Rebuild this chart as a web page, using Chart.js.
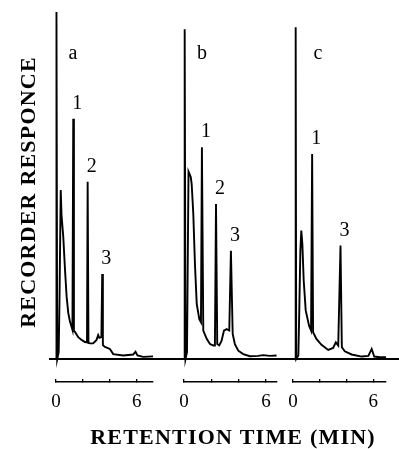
<!DOCTYPE html>
<html><head><meta charset="utf-8">
<script src="https://cdn.jsdelivr.net/npm/chart.js@4.4.0/dist/chart.umd.min.js"></script>
<style>
html,body{margin:0;padding:0;background:#fff;}
#wrap{position:relative;width:399px;height:449px;overflow:hidden;background:#fff;}
#wrap canvas{position:absolute;top:0;}
</style></head><body>
<div id="wrap">
<canvas id="main" width="416" height="449" style="left:0px"></canvas>
<canvas id="pa" width="157" height="449" style="left:26px"></canvas>
<canvas id="pb" width="153" height="449" style="left:154px"></canvas>
<canvas id="pc" width="153" height="449" style="left:263px"></canvas>
</div>
<script>
// ---- data (time in min, response in arbitrary units, 0 = baseline) ----
const timeA = [0, 0.02, 0.05, 0.09, 0.2, 0.26, 0.35, 0.41, 0.54, 0.67, 0.79, 0.91, 1.04, 1.16, 1.22, 1.28, 1.33, 1.41, 1.65, 1.9, 2.15, 2.3, 2.35, 2.41, 2.52, 2.76, 3.01, 3.13, 3.22, 3.37, 3.43, 3.48, 3.63, 4.0, 4.25, 4.99, 5.73, 5.9, 6.05, 6.47, 7.2];
const respA = [0, 0, 100, 0, 2, 17, 48.7, 41.5, 35.2, 25.6, 17.9, 13.3, 10.7, 9.2, 8.4, 69.2, 8.1, 7.8, 6.3, 5.5, 4.9, 4.8, 51.1, 4.6, 4.5, 4.5, 5.5, 6.9, 6.1, 6.3, 24.5, 4.0, 3.5, 2.9, 1.4, 1.0, 1.3, 2.1, 1.0, 0.6, 0.75];

const timeB = [0, 0.03, 0.07, 0.11, 0.22, 0.33, 0.49, 0.56, 0.68, 0.80, 0.93, 1.12, 1.24, 1.31, 1.41, 1.66, 1.9, 2.14, 2.26, 2.34, 2.43, 2.58, 2.75, 2.92, 3.12, 3.31, 3.43, 3.56, 3.72, 3.97, 4.33, 4.82, 5.42, 5.79, 6.28, 6.77];
const respB = [0, 0, 95, 0, 2, 54, 52.5, 50.5, 41.8, 27.4, 15.9, 11.5, 10.6, 61.0, 8.2, 5.8, 4.3, 3.9, 3.9, 44.7, 4.3, 3.9, 5.3, 8.2, 8.6, 8.2, 31.2, 7.2, 4.3, 2.4, 1.4, 0.8, 0.9, 1.1, 0.9, 1.0];

const timeC = [0, 0.17, 0.2, 0.24, 0.4, 0.45, 0.55, 0.62, 0.7, 0.8, 0.95, 1.2, 1.35, 1.43, 1.5, 1.75, 2.13, 2.63, 3.0, 3.2, 3.38, 3.55, 3.65, 3.87, 4.38, 5.13, 5.63, 5.88, 6.07, 6.5, 6.95];
const respC = [0, 0, 95.6, 0, 1, 10, 31.2, 37, 33.1, 22.6, 14.0, 9.6, 8.2, 59.1, 7.7, 5.8, 4.1, 2.6, 3.2, 4.8, 3.9, 32.7, 3.4, 2.2, 1.3, 0.7, 0.9, 2.9, 0.7, 0.5, 0.5];

const panelNames = ['a', 'b', 'c'];
const peakNamesA = ['1', '2', '3'];
const peakTimesA = [1.28, 2.35, 3.43];
const peakNamesB = ['1', '2', '3'];
const peakTimesB = [1.31, 2.34, 3.43];
const peakNamesC = ['1', '3'];
const peakTimesC = [1.43, 3.55];

const tickValues = [0, 2, 4, 6];
const tickLabels = ['0', '', '', '6'];

const yTitle = 'RECORDER RESPONCE';
const xTitle = 'RETENTION TIME (MIN)';

// ---- drawing ----
const SERIF = "'Liberation Serif', 'DejaVu Serif', serif";
Chart.defaults.animation = false;

const spacingPlugin = {
  id: 'titleSpacing',
  beforeDraw(chart) { chart.ctx.letterSpacing = '1.2px'; }
};

const labelPlugin = {
  id: 'peakLabels',
  afterDatasetsDraw(chart, args, opts) {
    const {ctx, scales: {x, y}} = chart;
    ctx.save();
    ctx.fillStyle = '#000';
    ctx.textAlign = 'center';
    ctx.font = '20px ' + SERIF;
    ctx.textBaseline = 'middle';
    ctx.fillText(opts.panel, x.getPixelForValue(opts.panelT), y.getPixelForValue(opts.panelR));
    ctx.textBaseline = 'alphabetic';
    opts.names.forEach((n, i) => {
      const t = opts.peakTimes[i];
      const idx = opts.times.indexOf(t);
      const r = opts.resp[idx];
      ctx.fillText(n, x.getPixelForValue(t) + 4, y.getPixelForValue(r) - 10);
    });
    ctx.restore();
  }
};

new Chart(document.getElementById('main'), {
  type: 'line',
  data: {datasets: []},
  options: {
    responsive: false, maintainAspectRatio: false,
    layout: {padding: {top: 25, left: 0, right: 0, bottom: 0}},
    plugins: {legend: {display: false}, tooltip: {enabled: false}},
    scales: {
      x: {type: 'linear', min: 0, max: 1, position: 'bottom',
          ticks: {display: false}, grid: {display: false},
          border: {display: true, color: '#000', width: 2},
          title: {display: true, text: xTitle, color: '#000',
                  font: {family: SERIF, size: 22, weight: 'bold', lineHeight: 1},
                  padding: {top: 0, bottom: 0}},
          afterFit: s => { s.height = 449 - 359; }},
      y: {type: 'linear', min: 0, max: 1, position: 'left',
          ticks: {display: false}, grid: {display: false}, border: {display: false},
          title: {display: true, text: yTitle, color: '#000',
                  font: {family: SERIF, size: 22, weight: 'bold', lineHeight: 1},
                  padding: {top: 18, bottom: 0}},
          afterFit: s => { s.width = 50; }}
    }
  },
  plugins: [spacingPlugin]
});

function panel(id, padL, padR, xmax, times, resp, letter, letterT, names, peakTimes) {
  return new Chart(document.getElementById(id), {
    type: 'line',
    data: {datasets: [{
      data: times.map((t, i) => ({x: t, y: resp[i]})),
      borderColor: '#000', borderWidth: 1.9, pointRadius: 0, tension: 0,
      fill: false, clip: false, borderJoinStyle: 'miter'
    }]},
    options: {
      responsive: false, maintainAspectRatio: false,
      layout: {padding: {top: 12, left: padL, right: padR, bottom: 0}},
      plugins: {legend: {display: false}, tooltip: {enabled: false},
        peakLabels: {panel: letter, panelT: letterT, panelR: 88, names: names,
                     peakTimes: peakTimes, times: times, resp: resp}},
      scales: {
        x: {type: 'linear', min: 0, max: xmax, position: 'bottom',
            afterBuildTicks: s => { s.ticks = tickValues.map(v => ({value: v})); },
            ticks: {callback: (v, i) => tickLabels[i], color: '#000', padding: 12,
                    autoSkip: false, maxRotation: 0,
                    font: {family: SERIF, size: 19, lineHeight: 1.2}},
            grid: {display: true, drawOnChartArea: false, drawTicks: true, tickLength: -3,
                   color: '#000', lineWidth: 1.3},
            border: {display: true, color: '#000', width: 1.5},
            afterFit: s => { s.height = 449 - 382; }},
        y: {type: 'linear', min: -6.63, max: 100, display: false}
      }
    },
    plugins: [labelPlugin]
  });
}

panel('pa', 30, 30, 7.2, timeA, respA, panelNames[0], 1.26, peakNamesA, peakTimesA);
panel('pb', 30, 30, 6.8, timeB, respB, panelNames[1], 1.32, peakNamesB, peakTimesB);
panel('pc', 30, 30, 6.95, timeC, respC, panelNames[2], 1.87, peakNamesC, peakTimesC);
</script>
</body></html>
